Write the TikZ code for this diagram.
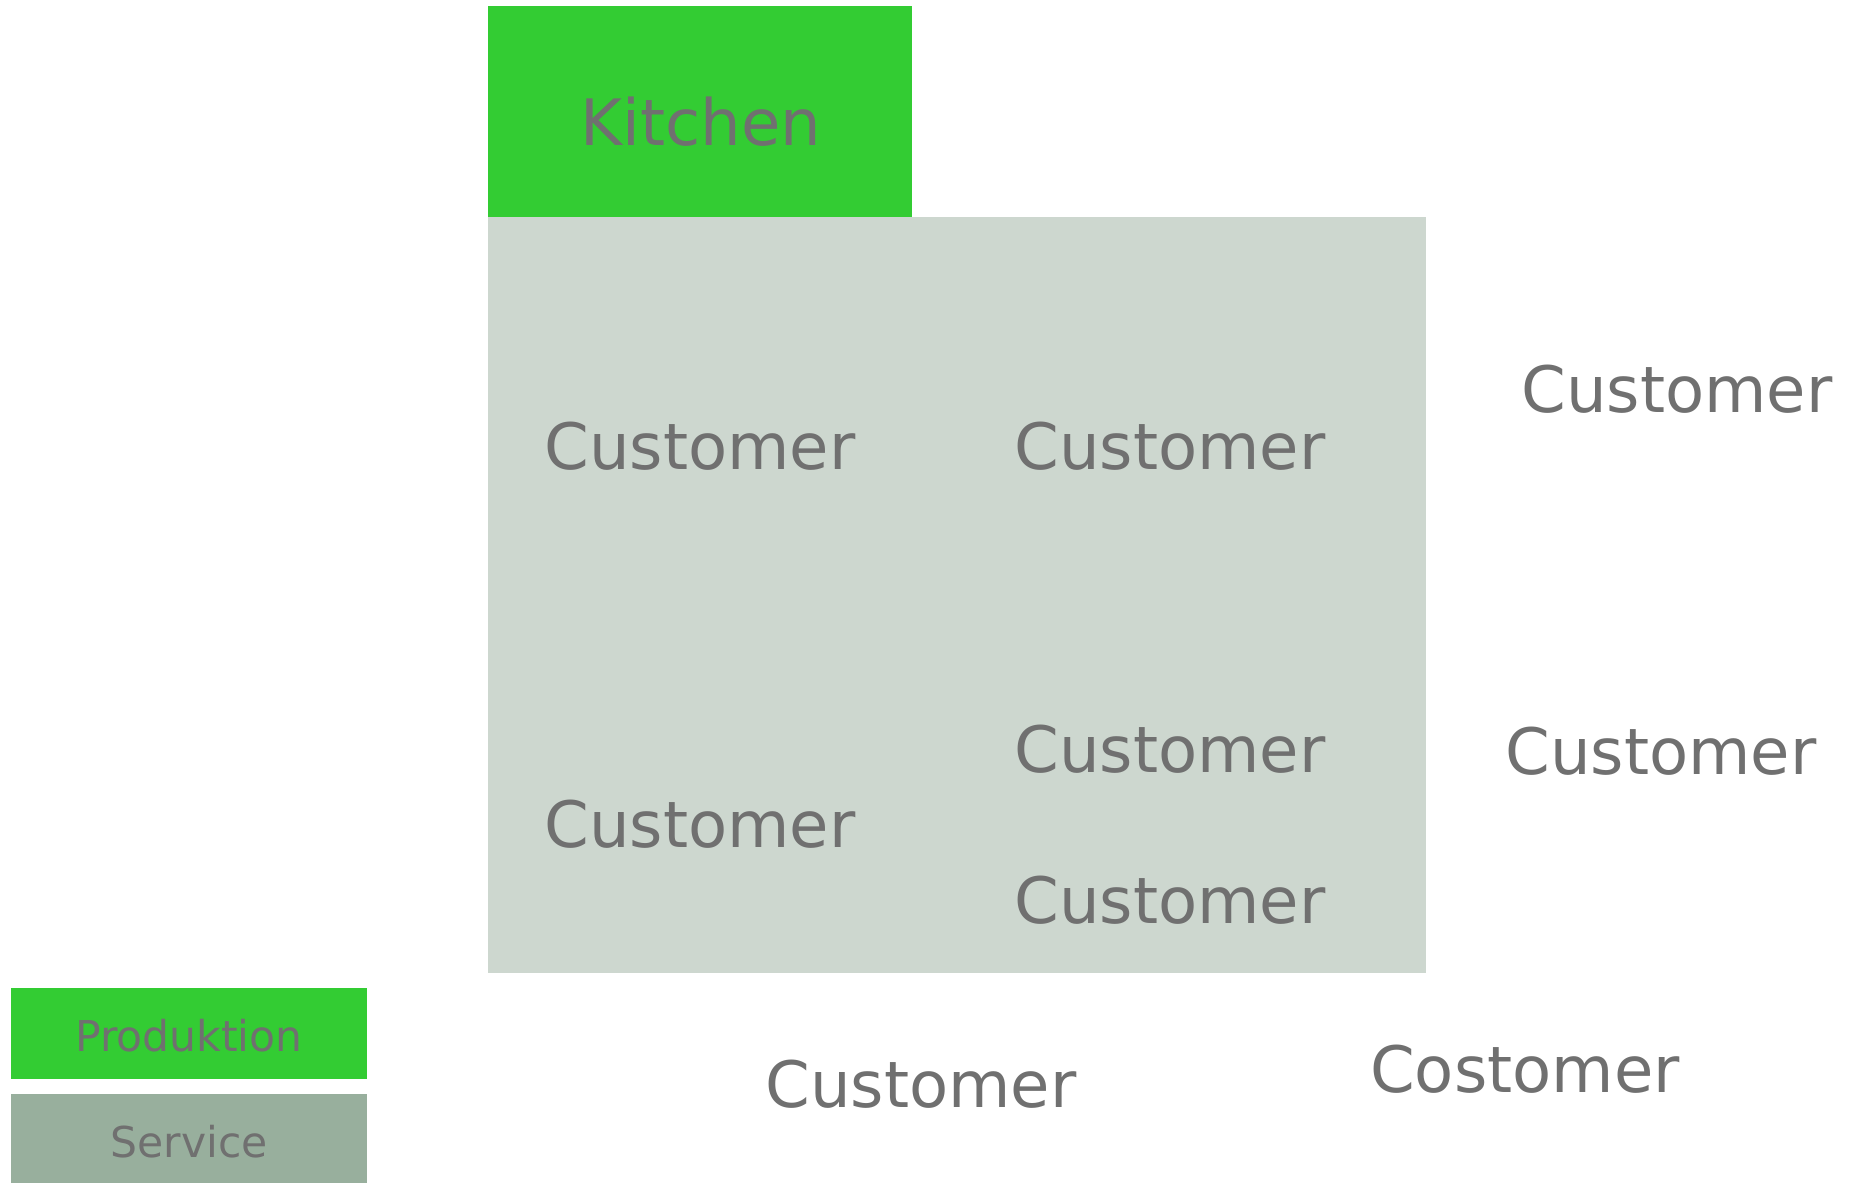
\documentclass[tikz,border=0pt]{standalone}
\usepackage{fontspec}
\setmainfont{DejaVu Sans}
\definecolor{prodgreen}{HTML}{33CC33}
\definecolor{servicelight}{HTML}{CDD7CF}
\definecolor{servicedark}{HTML}{98AF9D}
\definecolor{labelgray}{HTML}{707070}
\tikzset{
  area/.style={fill=#1, draw=none},
  biglabel/.style={anchor=base, inner sep=0pt, text=labelgray, font=\fontsize{64}{70}\selectfont},
  keylabel/.style={anchor=base, inner sep=0pt, text=labelgray, font=\fontsize{42.5}{48}\selectfont},
}
\begin{document}
\begin{tikzpicture}[x=1pt, y=-1pt]
  \useasboundingbox (0,0) rectangle (1852,1183);
  % floor areas
  \fill[area=servicelight] (488,217) rectangle (1426,973);
  \fill[area=prodgreen] (488,6) rectangle (912,217);
  % legend swatches
  \fill[area=prodgreen] (11,988) rectangle (367,1079);
  \fill[area=servicedark] (11,1094) rectangle (367,1183);

  \node[biglabel] (kitchen) at (701,145) {Kitchen};

  \node[biglabel] (c1) at (700,469) {Customer};
  \node[biglabel] (c2) at (1170,469) {Customer};
  \node[biglabel] (c3) at (1677,412) {Customer};
  \node[biglabel] (c4) at (1170,772) {Customer};
  \node[biglabel] (c5) at (1661,774) {Customer};
  \node[biglabel] (c6) at (700,847) {Customer};
  \node[biglabel] (c7) at (1170,923) {Customer};
  \node[biglabel] (c8) at (921,1107) {Customer};
  \node[biglabel] (c9) at (1525,1092) {Costomer};

  \node[keylabel] (keyprod) at (189,1051) {Produktion};
  \node[keylabel] (keyserv) at (189,1157) {Service};
\end{tikzpicture}
\end{document}
